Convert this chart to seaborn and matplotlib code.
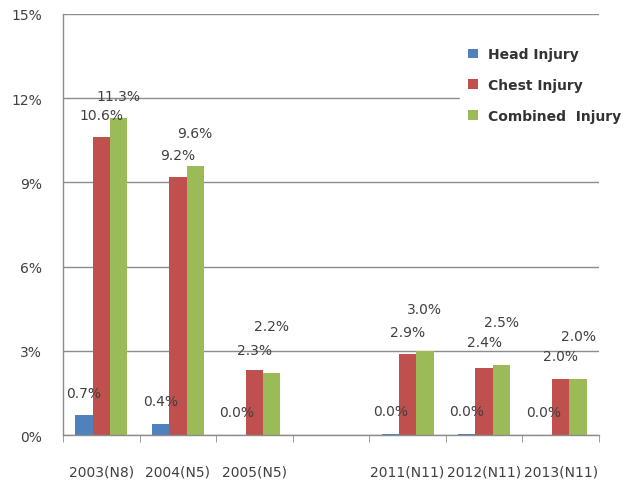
import matplotlib
matplotlib.use("Agg")
import matplotlib.pyplot as plt
import seaborn as sns
import pandas as pd
from matplotlib.ticker import MultipleLocator, FuncFormatter

# ---- data ----
categories = ["2003(N8)", "2004(N5)", "2005(N5)", " ", "2011(N11)", "2012(N11)", "2013(N11)"]
data_categories = ["2003(N8)", "2004(N5)", "2005(N5)", "2011(N11)", "2012(N11)", "2013(N11)"]
series = ["Head Injury", "Chest Injury", "Combined  Injury"]
head = [0.7, 0.4, 0.0, 0.04, 0.04, 0.0]
chest = [10.6, 9.2, 2.3, 2.9, 2.4, 2.0]
combined = [11.3, 9.6, 2.2, 3.0, 2.5, 2.0]
yticks = [0, 3, 6, 9, 12, 15]

# label vertical offsets (in % units), per series
label_offsets = {
    "Head Injury": [0.8, 0.8, 0.82, 0.82, 0.82, 0.82],
    "Chest Injury": [0.8, 0.76, 0.74, 0.78, 0.92, 0.82],
    "Combined  Injury": [0.77, 1.15, 1.68, 1.5, 1.54, 1.54],
}

values = {"Head Injury": head, "Chest Injury": chest, "Combined  Injury": combined}
rows = []
for s in series:
    for c, v in zip(data_categories, values[s]):
        rows.append({"cat": c, "series": s, "val": v})
df = pd.DataFrame(rows)

palette = {"Head Injury": "#4F81BD", "Chest Injury": "#C0504D", "Combined  Injury": "#9BBB59"}

sns.set_style("white")
plt.rcParams["font.family"] = ["DejaVu Sans"]

fig = plt.figure(figsize=(6.44, 4.81), dpi=100)
ax = fig.add_axes([63 / 644, 1 - 436 / 481, (599 - 63) / 644, (436 - 15) / 481])

sns.barplot(data=df, x="cat", y="val", hue="series", order=categories, hue_order=series,
            palette=palette, width=0.68, saturation=1, ax=ax, errorbar=None, legend=True,
            linewidth=0)

ax.set_ylim(0, 15)
ax.set_xlim(-0.5, len(categories) - 0.5)
ax.yaxis.set_major_locator(MultipleLocator(3))
ax.yaxis.set_major_formatter(FuncFormatter(lambda v, p: f"{int(v)}%"))
ax.set_yticks(yticks)
ax.grid(axis="y", color="#8c8c8c", linewidth=1.0)
ax.set_axisbelow(True)
for side in ["top", "right"]:
    ax.spines[side].set_visible(False)
for side in ["left", "bottom"]:
    ax.spines[side].set_color("#8c8c8c")
    ax.spines[side].set_linewidth(1.0)

ax.set_xlabel("")
ax.set_ylabel("")
ax.tick_params(axis="y", length=6, color="#8c8c8c", labelsize=10, labelcolor="#404040", pad=9)
ax.tick_params(axis="x", which="major", length=0, labelsize=10, labelcolor="#404040", pad=21)
ax.set_xticks(range(len(categories)), minor=False)
ax.set_xticks([i - 0.5 for i in range(len(categories) + 1)], minor=True)
ax.tick_params(axis="x", which="minor", length=5, color="#8c8c8c", bottom=True)

# data labels
for cont, s in zip(ax.containers, series):
    vals = values[s]
    offs = label_offsets[s]
    bars = [b for b in cont.patches]
    for b, v, o in zip(bars, vals, offs):
        xc = b.get_x() + b.get_width() / 2
        ax.text(xc, v + o, f"{v:.1f}%", ha="center", va="center", fontsize=10, color="#404040")

leg = ax.legend(loc="upper left", bbox_to_anchor=(460 / 644, 1 - 40 / 481),
                bbox_transform=fig.transFigure, frameon=True, framealpha=1,
                edgecolor="white", facecolor="white", fontsize=10,
                handlelength=0.7, handleheight=0.7, handletextpad=0.7,
                labelspacing=1.2, borderpad=0.6, borderaxespad=0)
for t in leg.get_texts():
    t.set_fontweight("bold")
    t.set_color("#333333")

fig.savefig("out.png", dpi=100)
